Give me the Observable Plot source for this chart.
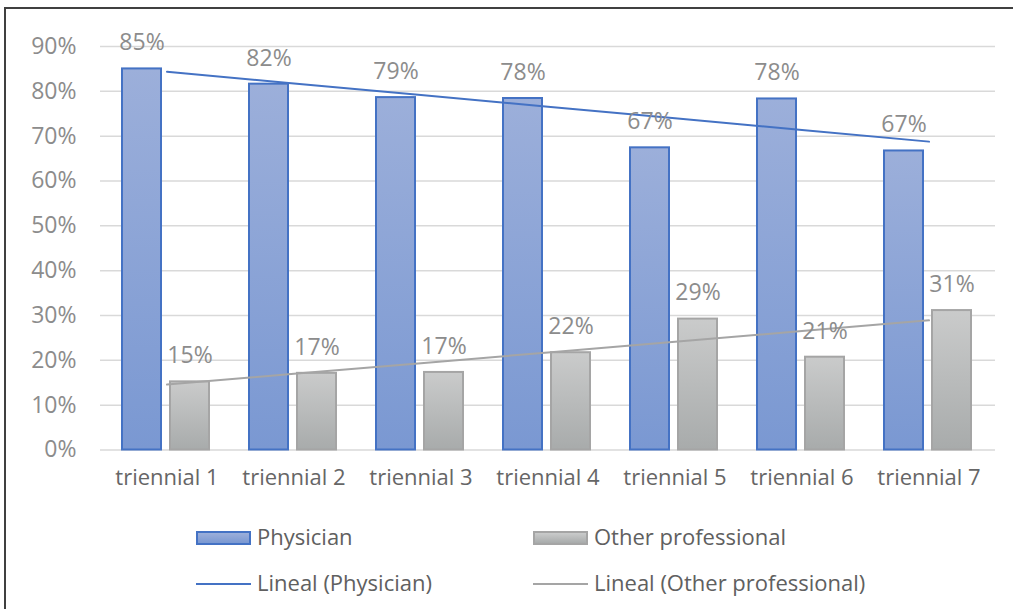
<!DOCTYPE html>
<html>
<head>
<meta charset="utf-8">
<script src="https://cdn.jsdelivr.net/npm/d3@7"></script>
<script src="https://cdn.jsdelivr.net/npm/@observablehq/plot@0.6"></script>
<style>
  html, body { margin: 0; padding: 0; background: #fff; width: 1013px; height: 609px; overflow: hidden; }
  #frame { position: absolute; left: 4px; top: 7px; width: 1100px; height: 700px; border-left: 2px solid #404040; border-top: 2px solid #404040; }
  #chart { position: absolute; left: 0; top: 0; }
  .leg { position: absolute; font-family: "Open Sans", sans-serif; font-size: 22px; color: #606060; white-space: nowrap; line-height: 1; }
  .sw { position: absolute; box-sizing: border-box; }
</style>
</head>
<body>
<div id="frame"></div>
<div id="chart"></div>
<div id="legend"></div>
<script>
const categories = ["triennial 1", "triennial 2", "triennial 3", "triennial 4", "triennial 5", "triennial 6", "triennial 7"];
const physician = [0.850, 0.816, 0.786, 0.784, 0.674, 0.783, 0.667];
const other = [0.152, 0.171, 0.173, 0.217, 0.292, 0.207, 0.311];
const seriesNames = ["Physician", "Other professional"];
const trendNames = ["Lineal (Physician)", "Lineal (Other professional)"];
const yTicks = [0, 0.1, 0.2, 0.3, 0.4, 0.5, 0.6, 0.7, 0.8, 0.9];

function rows(values) { return categories.map((c, i) => ({cat: c, value: values[i]})); }
function trend(values) {
  const xs = values.map((_, i) => i + 1);
  const mx = d3.mean(xs), my = d3.mean(values);
  const slope = d3.sum(xs, (x, i) => (x - mx) * (values[i] - my)) / d3.sum(xs, x => (x - mx) ** 2);
  return categories.map((c, i) => ({cat: c, value: my + slope * (xs[i] - mx)}));
}
const physData = rows(physician), otherData = rows(other);
const fmt = d3.format(".0%");

const svg = Plot.plot({
  width: 1013, height: 510,
  marginTop: 46, marginBottom: 60.5, marginLeft: 100, marginRight: 18,
  style: {fontFamily: "Open Sans, sans-serif", background: "transparent", overflow: "visible"},
  x: {domain: categories, padding: 0, label: null},
  y: {domain: [0, 0.9], label: null},
  marks: [
    Plot.gridY(yTicks, {stroke: "#d9d9d9", strokeOpacity: 1, strokeWidth: 1.5}),
    Plot.axisY(yTicks, {tickSize: 0, tickPadding: 24, fontSize: 23, color: "#8c8c8c", tickFormat: fmt, label: null}),
    Plot.axisX({tickSize: 0, tickPadding: 19, fontSize: 22, color: "#666666", label: null}),
    Plot.barY(physData, {x: "cat", y: "value", fill: "url(#gradP)", stroke: "#4472c4", strokeWidth: 2, insetLeft: 19, insetRight: 69}),
    Plot.barY(otherData, {x: "cat", y: "value", fill: "url(#gradO)", stroke: "#a5a5a5", strokeWidth: 2, insetLeft: 67, insetRight: 21}),
    Plot.lineY(trend(physician), {x: "cat", y: "value", stroke: "#4472c4", strokeWidth: 2}),
    Plot.lineY(trend(other), {x: "cat", y: "value", stroke: "#a5a5a5", strokeWidth: 2}),
    Plot.text(physData, {x: "cat", y: "value", text: d => fmt(d.value), dx: -25, dy: -26, fontSize: 23, fill: "#8c8c8c"}),
    Plot.text(otherData, {x: "cat", y: "value", text: d => fmt(d.value), dx: 23, dy: -26, fontSize: 23, fill: "#8c8c8c"})
  ]
});

const defs = d3.select(svg).insert("defs", ":first-child");
function grad(id, top, bottom) {
  const g = defs.append("linearGradient").attr("id", id).attr("x1", 0).attr("y1", 0).attr("x2", 0).attr("y2", 1);
  g.append("stop").attr("offset", "0%").attr("stop-color", top);
  g.append("stop").attr("offset", "100%").attr("stop-color", bottom);
}
grad("gradP", "#9cafda", "#7a98d2");
grad("gradO", "#cacbcb", "#a8abab");
document.getElementById("chart").appendChild(svg);

// Legend
const legend = document.getElementById("legend");
const legItems = [
  {label: seriesNames[0], kind: "box", fill: "linear-gradient(#9cafda, #7a98d2)", stroke: "#4472c4", x: 196, y: 538},
  {label: seriesNames[1], kind: "box", fill: "linear-gradient(#cacbcb, #a8abab)", stroke: "#a5a5a5", x: 533, y: 538},
  {label: trendNames[0], kind: "line", stroke: "#4472c4", x: 196, y: 584},
  {label: trendNames[1], kind: "line", stroke: "#a5a5a5", x: 533, y: 584}
];
for (const it of legItems) {
  const sw = document.createElement("div");
  sw.className = "sw";
  if (it.kind === "box") {
    Object.assign(sw.style, {left: it.x + "px", top: (it.y - 7) + "px", width: "55px", height: "14px", background: it.fill, border: "2px solid " + it.stroke});
  } else {
    Object.assign(sw.style, {left: it.x + "px", top: (it.y - 1) + "px", width: "55px", height: "2px", background: it.stroke});
  }
  legend.appendChild(sw);
  const t = document.createElement("div");
  t.className = "leg";
  t.textContent = it.label;
  Object.assign(t.style, {left: (it.x + 61) + "px", top: (it.y - 13) + "px"});
  legend.appendChild(t);
}
</script>
</body>
</html>
